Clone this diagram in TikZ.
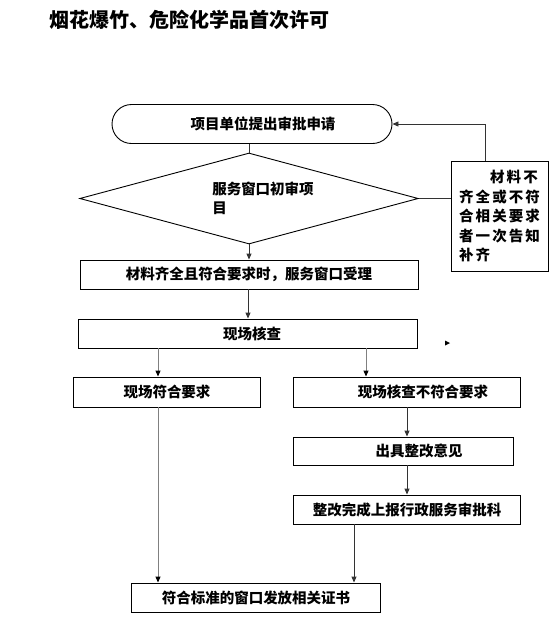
\documentclass[tikz,border=0pt]{standalone}
\usepackage{fontspec}
\usepackage{tikz}
\usetikzlibrary{shapes.geometric, shapes.misc, arrows.meta}
\newfontfamily\cjk{Noto Sans CJK SC}
\newfontfamily\cjktitle{Noto Sans CJK SC Black}
\newfontfamily\cjkwide{Noto Sans CJK SC}[LetterSpace=14]
\tikzset{
    >={Triangle[width=5pt,length=6pt]},
    every node/.style={font=\cjk\bfseries\fontsize{14.5}{19.5}\selectfont, inner sep=0pt},
    startbox/.style={draw, rounded rectangle, line width=0.9pt, minimum width=280pt, minimum height=39pt},
    checkbox/.style={draw, diamond, line width=0.9pt, shape aspect=3.72, minimum width=338.5pt, minimum height=91pt},
    stepbox/.style={draw, rectangle, line width=0.9pt, minimum height=29pt},
    link/.style={draw=black!80, line width=0.9pt},
    greylink/.style={draw=black!50, line width=1pt, -{Triangle[width=5pt,length=6pt,black]}}
}

\begin{document}
\begin{tikzpicture}[x=1pt, y=-1pt]
    \useasboundingbox (0,0) rectangle (554,633);

    % Title
    \node[anchor=west, font=\cjktitle\fontsize{20}{24}\selectfont] (title) at (49,20) {烟花爆竹、危险化学品首次许可};

    % Application and first review
    \node[startbox] (apply) at (252,124) {\hspace*{22pt}项目单位提出审批申请};
    \node[checkbox, align=left] (review) at (249,198.5) {\hspace*{28pt}服务窗口初审项\\\hspace*{28pt}目};
    \node[stepbox, minimum width=97pt, minimum height=110pt, align=left, font=\cjkwide\bfseries\fontsize{14.5}{19.5}\selectfont] (notice) at (499.5,216)
        {\hspace*{31pt}材料不\\齐全或不符\\合相关要求\\者一次告知\\补齐};

    % Acceptance and site check
    \node[stepbox, minimum width=338pt] (accept) at (249,274.5) {材料齐全且符合要求时，服务窗口受理};
    \node[stepbox, minimum width=339.5pt] (check) at (248,333.5) {\hspace*{8pt}现场核查};

    % Results of the check
    \node[stepbox, minimum width=186.5pt, minimum height=30pt] (ok) at (167,392) {现场符合要求};
    \node[stepbox, minimum width=227.5pt, minimum height=30pt] (notok) at (407,392) {\hspace*{32pt}现场核查不符合要求};
    \node[stepbox, minimum width=220pt, minimum height=28pt] (rectify) at (403,451) {\hspace*{32pt}出具整改意见};
    \node[stepbox, minimum width=226.5pt] (report) at (407,509.5) {整改完成上报行政服务审批科};
    \node[stepbox, minimum width=249pt] (issue) at (256,597.5) {符合标准的窗口发放相关证书};

    % Arrows
    \draw[link] (review.north |- apply.south) -- (review.north);
    \draw[link, ->] (review.south) -- (review.south |- accept.north);
    \draw[link] (review.east) -- (review.east -| notice.west);
    \draw[link, ->] ([xshift=-14pt]notice.north) |- (apply.east);
    \draw[link, ->] (accept.south -| check.north) -- (check.north);
    \draw[greylink] ([xshift=-9pt]ok.north |- check.south) -- ([xshift=-9pt]ok.north);
    \draw[greylink] ([xshift=-41pt]notok.north |- check.south) -- ([xshift=-41pt]notok.north);
    \draw[link, ->] (notok.south) -- (notok.south |- rectify.north);
    \draw[link, ->] (notok.south |- rectify.south) -- (notok.south |- report.north);
    \draw[greylink] ([xshift=-9pt]ok.south) -- ([xshift=-9pt]ok.south |- issue.north);
    \draw[link, ->] ([xshift=-53pt]report.south) -- ([xshift=-53pt]report.south |- issue.north);

    % Stray arrow tip
    \fill (445,340.5) -- (450,343) -- (445,345.5) -- cycle;
\end{tikzpicture}
\end{document}
